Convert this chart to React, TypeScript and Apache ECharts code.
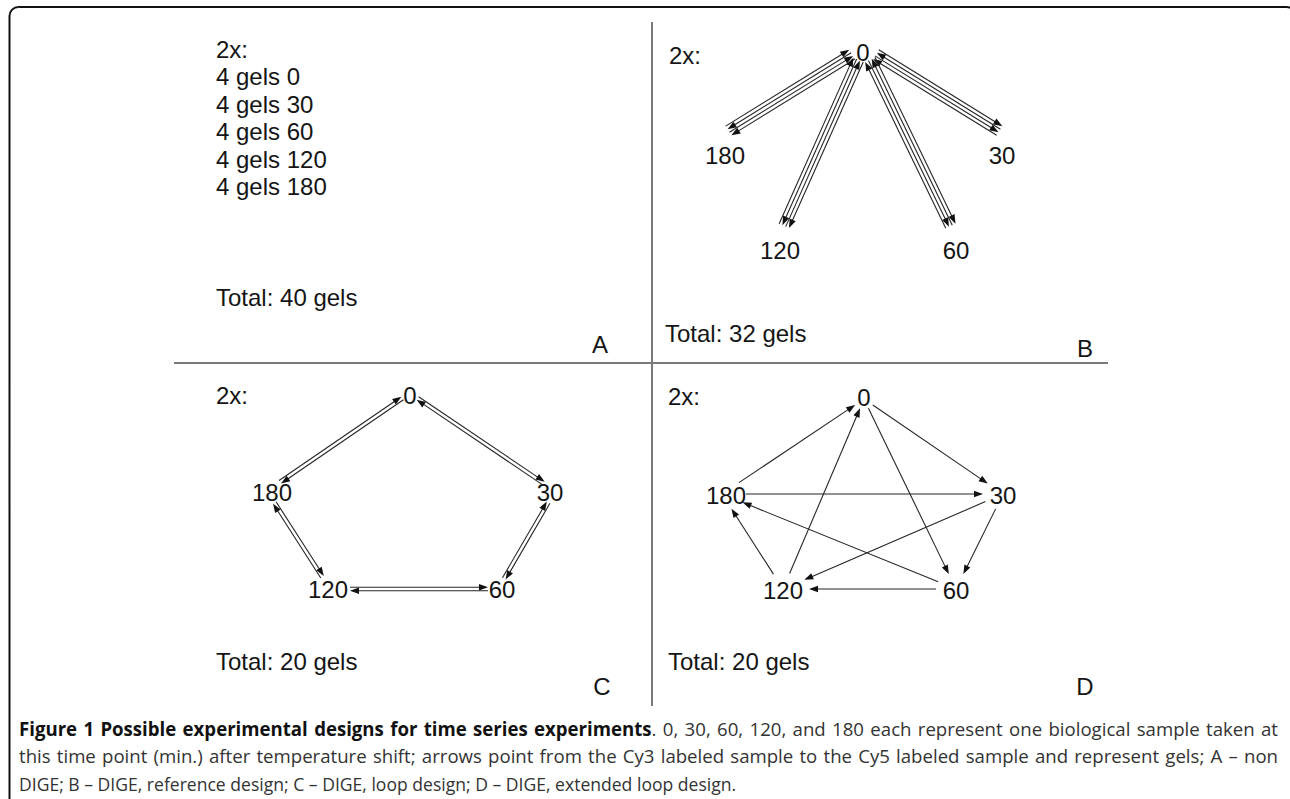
import React, { useEffect, useRef } from 'react';
import * as echarts from 'echarts';

const W = 1290;
const H = 799;
const FONT = 'Liberation Sans';
const CAP_FONT = 'Open Sans';

// node order: 0, 30, 60, 120, 180
const nodeNames = ['0', '30', '60', '120', '180'];

// Panel B – reference design (label centres, arrow anchors)
const bLabelX = [863, 1002, 956, 780, 725];
const bLabelY = [52, 155, 250, 250, 155];
const bAnchorX = [864, 1008, 955, 780, 720];
const bAnchorY = [47, 136, 235, 235, 136];
const bRx = [14, 10, 10, 10, 10];
const bRy = [14, 10, 10, 10, 10];
const bEdges = [[0, 4], [0, 1], [0, 3], [0, 2]];
const bOffsets = [-5.4, -1.8, 1.8, 5.4];
const bDirs = [1, -1, 1, -1];

// Panel C – loop design
const cLabelX = [410, 550, 502, 328, 272];
const cLabelY = [395, 492, 589, 589, 492];
const cAnchorX = [410, 555, 498, 330, 267];
const cAnchorY = [393, 491, 589, 589, 491];
const cRx = [10, 14, 10, 20, 18];
const cRy = [8, 13, 13, 13, 13];
const cEdges = [[0, 4], [0, 1], [1, 2], [2, 3], [3, 4]];
const cOffsets = [-1.8, 1.8];
const cDirs = [1, -1];

// Panel D – extended loop design
const dLabelX = [864, 1003, 956, 783, 726];
const dLabelY = [397, 495, 590, 590, 495];
const dAnchorX = [864, 1003, 956, 783, 722];
const dAnchorY = [399, 494, 589, 589, 494];
const dRx = [11, 20, 20, 26, 24];
const dRy = [10, 16, 16, 16, 16];
const dEdges = [[4, 0], [0, 1], [0, 2], [4, 1], [2, 4], [1, 3], [1, 2], [3, 0], [3, 4], [2, 3]];
const dOffsets = [0];
const dDirs = [1];

// Panel texts
const panelALines = ['2x:', '4 gels 0', '4 gels 30', '4 gels 60', '4 gels 120', '4 gels 180'];
const panelTotals = ['Total: 40 gels', 'Total: 32 gels', 'Total: 20 gels', 'Total: 20 gels'];
const panelLetters = ['A', 'B', 'C', 'D'];

const captionBold = 'Figure 1 Possible experimental designs for time series experiments';
const captionLine1 = '. 0, 30, 60, 120, and 180 each represent one biological sample taken at';
const captionLine2 = 'this time point (min.) after temperature shift; arrows point from the Cy3 labeled sample to the Cy5 labeled sample and represent gels; A \u2013 non';
const captionLine3 = 'DIGE; B \u2013 DIGE, reference design; C \u2013 DIGE, loop design; D \u2013 DIGE, extended loop design.';

function buildSegments(
  ax: number[], ay: number[], rx: number[], ry: number[],
  edges: number[][], offsets: number[], dirs: number[]
) {
  const segs: number[][] = [];
  edges.forEach(([i, j]) => {
    const dx = ax[j] - ax[i];
    const dy = ay[j] - ay[i];
    const len = Math.hypot(dx, dy);
    const ux = dx / len;
    const uy = dy / len;
    const ti = 1 / Math.sqrt((ux / rx[i]) ** 2 + (uy / ry[i]) ** 2);
    const tj = 1 / Math.sqrt((ux / rx[j]) ** 2 + (uy / ry[j]) ** 2);
    const nx = -uy;
    const ny = ux;
    offsets.forEach((o, k) => {
      const px = ax[i] + ux * ti + nx * o;
      const py = ay[i] + uy * ti + ny * o;
      const qx = ax[j] - ux * tj + nx * o;
      const qy = ay[j] - uy * tj + ny * o;
      if (dirs[k] > 0) segs.push([px, py, qx, qy]);
      else segs.push([qx, qy, px, py]);
    });
  });
  return segs;
}

function labelData(xs: number[], ys: number[]) {
  return nodeNames.map((n, i) => [xs[i], ys[i], i]);
}

let measureCtx: CanvasRenderingContext2D | null = null;
function measure(text: string, font: string) {
  if (!measureCtx) measureCtx = document.createElement('canvas').getContext('2d');
  if (!measureCtx) return text.length * 8;
  measureCtx.font = font;
  return measureCtx.measureText(text).width;
}

type Seg = { t: string; bold: boolean };

export default function App() {
  const ref = useRef<HTMLDivElement>(null);
  useEffect(() => {
    if (!ref.current) return;
    const chart = echarts.init(ref.current, undefined, { renderer: 'svg' });

    const segs = [
      ...buildSegments(bAnchorX, bAnchorY, bRx, bRy, bEdges, bOffsets, bDirs),
      ...buildSegments(cAnchorX, cAnchorY, cRx, cRy, cEdges, cOffsets, cDirs),
      ...buildSegments(dAnchorX, dAnchorY, dRx, dRy, dEdges, dOffsets, dDirs),
    ];

    // caption: condensed (scaled) and justified
    const capSize = 19;
    const boldFont = `bold ${capSize}px "${CAP_FONT}"`;
    const regFont = `${capSize}px "${CAP_FONT}"`;
    const capLeft = 19;
    const capRight = 1278;
    const line3Right = 693;
    const fit1 = (capRight - capLeft) / (measure(captionBold, boldFont) + measure(captionLine1, regFont));
    const fit2 = (capRight - capLeft) / measure(captionLine2, regFont);
    const s12 = Math.min(fit1, fit2) * 0.975;
    const s3fit = (line3Right - capLeft) / measure(captionLine3, regFont);
    const s3 = (s12 + s3fit) / 2;

    const boldWords = captionBold.split(' ');
    const line1Words: Seg[][] = boldWords.map((w, i) =>
      i === boldWords.length - 1 ? [{ t: w, bold: true }, { t: '.', bold: false }] : [{ t: w, bold: true }]
    );
    captionLine1.slice(2).split(' ').forEach((w) => line1Words.push([{ t: w, bold: false }]));
    const line2Words: Seg[][] = captionLine2.split(' ').map((w) => [{ t: w, bold: false }]);
    const line3Words: Seg[][] = captionLine3.split(' ').map((w) => [{ t: w, bold: false }]);

    const capEls: any[] = [];
    const layLine = (words: Seg[][], y: number, sc: number, justify: boolean) => {
      const widths = words.map((wd) => wd.reduce((s, g) => s + measure(g.t, g.bold ? boldFont : regFont) * sc, 0));
      const total = widths.reduce((a, b) => a + b, 0);
      const gap = justify ? (capRight - capLeft - total) / (words.length - 1) : measure(' ', regFont) * sc;
      let x = capLeft;
      words.forEach((wd, i) => {
        let xx = x;
        wd.forEach((g) => {
          capEls.push({
            type: 'text', x: xx, y, scaleX: sc, silent: true,
            style: {
              text: g.t, fontSize: capSize, fontFamily: CAP_FONT,
              fontWeight: g.bold ? 'bold' : 'normal', fill: g.bold ? '#111' : '#333',
              verticalAlign: 'middle', align: 'left',
            },
          });
          xx += measure(g.t, g.bold ? boldFont : regFont) * sc;
        });
        x += widths[i] + gap;
      });
    };
    layLine(line1Words, 729, s12, true);
    layLine(line2Words, 756, s12, true);
    layLine(line3Words, 783, s3, false);

    const txt = (x: number, y: number, text: string, extra: any = {}) => ({
      type: 'text',
      x,
      y,
      silent: true,
      style: {
        text,
        fontSize: 24,
        fontFamily: FONT,
        fill: '#151515',
        verticalAlign: 'middle',
        align: 'left',
        ...extra,
      },
    });

    const graphics: any[] = [
      {
        type: 'rect',
        shape: { x: 9.5, y: 7, width: 1286, height: 840, r: 9 },
        style: { fill: 'none', stroke: '#111', lineWidth: 2 },
        silent: true,
      },
      { type: 'line', shape: { x1: 652, y1: 22, x2: 652, y2: 706 }, style: { stroke: '#7a7a7a', lineWidth: 2 }, silent: true },
      { type: 'line', shape: { x1: 174, y1: 363, x2: 1108, y2: 363 }, style: { stroke: '#7a7a7a', lineWidth: 2 }, silent: true },
      ...panelALines.map((t, i) => txt(216, 49 + i * 27.5, t)),
      txt(669, 55, '2x:'),
      txt(216, 395, '2x:'),
      txt(668, 396, '2x:'),
      txt(216, 297, panelTotals[0]),
      txt(665, 333, panelTotals[1]),
      txt(216, 661, panelTotals[2]),
      txt(668, 661, panelTotals[3]),
      txt(600, 344, panelLetters[0], { align: 'center' }),
      txt(1085, 348, panelLetters[1], { align: 'center' }),
      txt(602, 686, panelLetters[2], { align: 'center' }),
      txt(1085, 686, panelLetters[3], { align: 'center' }),
      ...capEls,
    ];

    const labelSeries = (xs: number[], ys: number[]) => ({
      type: 'custom',
      data: labelData(xs, ys),
      clip: false,
      silent: true,
      renderItem: (params: any, api: any) => {
        const p = api.coord([api.value(0), api.value(1)]);
        return {
          type: 'text',
          x: p[0],
          y: p[1],
          style: {
            text: nodeNames[api.value(2)],
            fontSize: 24,
            fontFamily: FONT,
            fill: '#151515',
            align: 'center',
            verticalAlign: 'middle',
          },
        };
      },
    });

    chart.setOption({
      animation: false,
      backgroundColor: '#ffffff',
      grid: { left: 0, right: 0, top: 0, bottom: 0 },
      xAxis: { type: 'value', min: 0, max: W, show: false },
      yAxis: { type: 'value', min: 0, max: H, inverse: true, show: false },
      graphic: graphics,
      series: [
        {
          type: 'custom',
          data: segs,
          clip: false,
          silent: true,
          encode: { x: [0, 2], y: [1, 3] },
          renderItem: (params: any, api: any) => {
            const p1 = api.coord([api.value(0), api.value(1)]);
            const p2 = api.coord([api.value(2), api.value(3)]);
            const dx = p2[0] - p1[0];
            const dy = p2[1] - p1[1];
            const len = Math.hypot(dx, dy) || 1;
            const ux = dx / len;
            const uy = dy / len;
            const L = 9;
            const hw = 3.3;
            const bx = p2[0] - ux * L;
            const by = p2[1] - uy * L;
            return {
              type: 'group',
              children: [
                { type: 'line', shape: { x1: p1[0], y1: p1[1], x2: bx + ux, y2: by + uy }, style: { stroke: '#262626', lineWidth: 1.1 } },
                {
                  type: 'polygon',
                  shape: { points: [[p2[0], p2[1]], [bx - uy * hw, by + ux * hw], [bx + uy * hw, by - ux * hw]] },
                  style: { fill: '#111', stroke: 'none' },
                },
              ],
            };
          },
        },
        labelSeries(bLabelX, bLabelY),
        labelSeries(cLabelX, cLabelY),
        labelSeries(dLabelX, dLabelY),
      ],
    });
    return () => chart.dispose();
  }, []);
  return <div ref={ref} style={{ position: 'absolute', left: 0, top: 0, width: W, height: H, background: '#fff' }} />;
}
